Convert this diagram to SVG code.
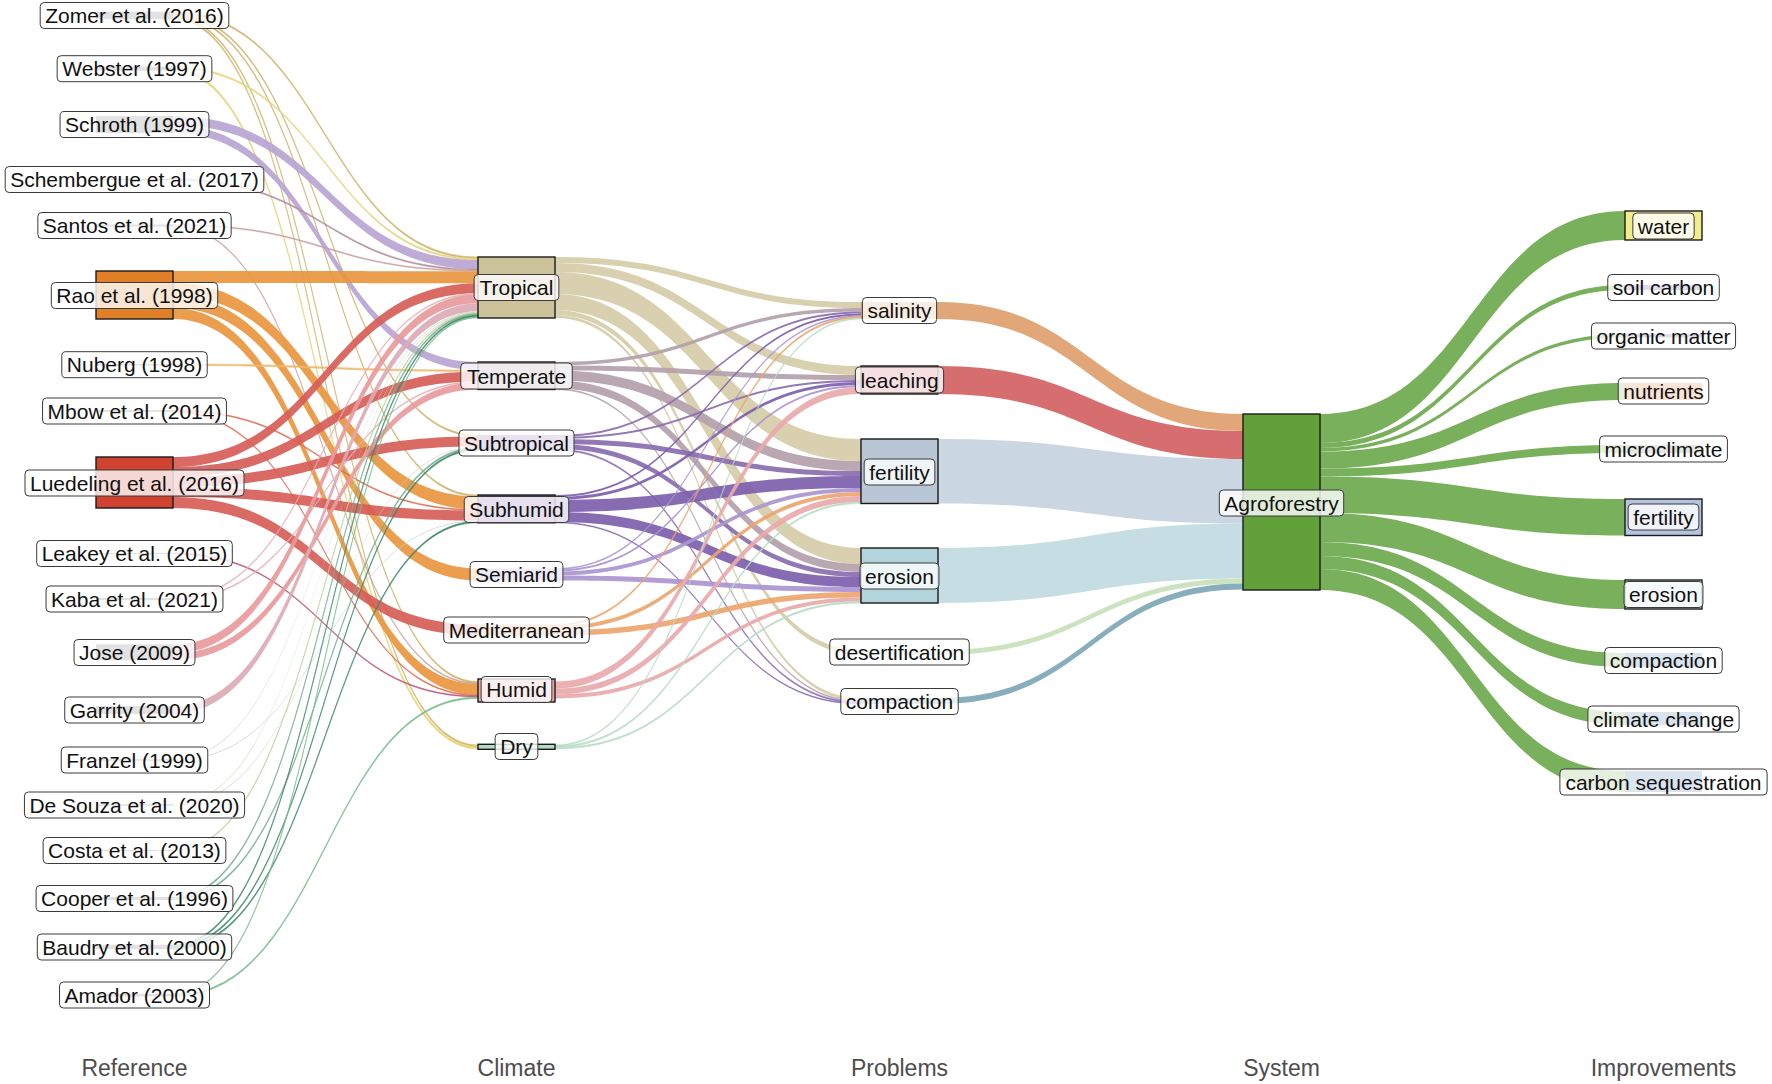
<svg xmlns="http://www.w3.org/2000/svg" width="1772" height="1084" viewBox="0 0 1772 1084">
<style>
.fl{fill-opacity:.92;stroke-width:0;stroke-opacity:.85}
.th{stroke-width:.6}
.st{stroke:#1a1a1a;stroke-width:1.4}
.lb{fill:#fff;fill-opacity:.8;stroke:#3a3a3a;stroke-width:1}
.t{font-family:"Liberation Sans",Arial,sans-serif;font-size:21px;fill:#111;text-anchor:middle}
.ax{font-family:"Liberation Sans",Arial,sans-serif;font-size:23px;fill:#4d4d4d;text-anchor:middle}
.sm{fill:#6e6e6e}
.cZo{fill:#cfb36b;stroke:#cfb36b}.cWe{fill:#e6d67e;stroke:#e6d67e}.cSc{fill:#b9a4d2;stroke:#b9a4d2}
.cSe{fill:#b28c9c;stroke:#b28c9c}.cSa{fill:#caa0a0;stroke:#caa0a0}.cRa{fill:#e8963f;stroke:#e8963f}
.cNu{fill:#efb76a;stroke:#efb76a}.cMb{fill:#dd6b55;stroke:#dd6b55}.cLu{fill:#d65d57;stroke:#d65d57}
.cLe{fill:#b8577a;stroke:#b8577a}.cKa{fill:#e6adb3;stroke:#e6adb3}.cJo{fill:#e89a9c;stroke:#e89a9c}
.cGa{fill:#dcaab4;stroke:#dcaab4}.cFr{fill:#cfcfcf;stroke:#cfcfcf}.cDe{fill:#cbd6bb;stroke:#cbd6bb}
.cCo{fill:#b5d198;stroke:#b5d198}.cCp{fill:#74ae92;stroke:#74ae92}.cBa{fill:#3e8867;stroke:#3e8867}
.cAm{fill:#78bb8b;stroke:#78bb8b}
.kTr{fill:#d6cca8;stroke:#d6cca8}.kTe{fill:#b3a1aa;stroke:#b3a1aa}.kSt{fill:#8a6cb0;stroke:#8a6cb0}
.kSh{fill:#7d5fac;stroke:#7d5fac}.kSe{fill:#aa95cf;stroke:#aa95cf}.kMe{fill:#eca56c;stroke:#eca56c}
.kHu{fill:#e9a9aa;stroke:#e9a9aa}.kDr{fill:#b6dbc6;stroke:#b6dbc6}
.pSa{fill:#e0a06c}.pLe{fill:#d26163}.pFe{fill:#c5d3e0}.pEr{fill:#c1dae1}.pDe{fill:#c7e1b9}.pCo{fill:#7ea7b9}
.gA{fill:#79b05b;fill-opacity:1}
</style>
<rect x="0" y="0" width="1772" height="1084" fill="#fff"/>
<g id="connectors">
<path class="fl th cZo" d="M173,11.75C325.5,11.75 325.5,257 478,257L478,258.5C325.5,258.5 325.5,13.25 173,13.25Z"/>
<path class="fl th cZo" d="M173,13.25C325.5,13.25 325.5,435 478,435L478,436.5C325.5,436.5 325.5,14.75 173,14.75Z"/>
<path class="fl th cZo" d="M173,14.75C325.5,14.75 325.5,495 478,495L478,496.5C325.5,496.5 325.5,16.25 173,16.25Z"/>
<path class="fl th cZo" d="M173,16.25C325.5,16.25 325.5,681.5 478,681.5L478,683C325.5,683 325.5,17.75 173,17.75Z"/>
<path class="fl th cZo" d="M173,17.75C325.5,17.75 325.5,745 478,745L478,746.5C325.5,746.5 325.5,19.25 173,19.25Z"/>
<path class="fl th cWe" d="M173,66.7C325.5,66.7 325.5,258.5 478,258.5L478,260C325.5,260 325.5,68.2 173,68.2Z"/>
<path class="fl th cWe" d="M173,68.2C325.5,68.2 325.5,746.5 478,746.5L478,749C325.5,749 325.5,70.7 173,70.7Z"/>
<path class="fl cSc" d="M173,116C325.5,116 325.5,260 478,260L478,269C325.5,269 325.5,125 173,125Z"/>
<path class="fl cSc" d="M173,125C325.5,125 325.5,362 478,362L478,370C325.5,370 325.5,133 173,133Z"/>
<path class="fl th cSe" d="M173,178.9C325.5,178.9 325.5,269 478,269L478,270.2C325.5,270.2 325.5,180.1 173,180.1Z"/>
<path class="fl th cSa" d="M173,224.5C325.5,224.5 325.5,270.2 478,270.2L478,271.2C325.5,271.2 325.5,225.5 173,225.5Z"/>
<path class="fl th cSa" d="M173,225.5C325.5,225.5 325.5,683 478,683L478,684C325.5,684 325.5,226.5 173,226.5Z"/>
<path class="fl cRa" d="M173,271C325.5,271 325.5,271.2 478,271.2L478,283.2C325.5,283.2 325.5,283 173,283Z"/>
<path class="fl cRa" d="M173,283C325.5,283 325.5,496.5 478,496.5L478,509.5C325.5,509.5 325.5,296 173,296Z"/>
<path class="fl cRa" d="M173,296C325.5,296 325.5,568.5 478,568.5L478,580.5C325.5,580.5 325.5,308 173,308Z"/>
<path class="fl cRa" d="M173,308C325.5,308 325.5,684 478,684L478,695C325.5,695 325.5,319 173,319Z"/>
<path class="fl th cNu" d="M173,364C325.5,364 325.5,370 478,370L478,371.5C325.5,371.5 325.5,365.5 173,365.5Z"/>
<path class="fl th cMb" d="M173,410C325.5,410 325.5,509.5 478,509.5L478,510.5C325.5,510.5 325.5,411 173,411Z"/>
<path class="fl th cMb" d="M173,411C325.5,411 325.5,695 478,695L478,696C325.5,696 325.5,412 173,412Z"/>
<path class="fl cLu" d="M173,457C325.5,457 325.5,283.2 478,283.2L478,293.2C325.5,293.2 325.5,467 173,467Z"/>
<path class="fl cLu" d="M173,467C325.5,467 325.5,371.5 478,371.5L478,381.5C325.5,381.5 325.5,477 173,477Z"/>
<path class="fl cLu" d="M173,477C325.5,477 325.5,436.5 478,436.5L478,446.5C325.5,446.5 325.5,487 173,487Z"/>
<path class="fl cLu" d="M173,487C325.5,487 325.5,510.5 478,510.5L478,520.5C325.5,520.5 325.5,497 173,497Z"/>
<path class="fl cLu" d="M173,497C325.5,497 325.5,624.5 478,624.5L478,635.5C325.5,635.5 325.5,508 173,508Z"/>
<path class="fl th cLe" d="M173,553C325.5,553 325.5,696 478,696L478,697C325.5,697 325.5,554 173,554Z"/>
<path class="fl th cKa" d="M173,598C325.5,598 325.5,293.2 478,293.2L478,294.2C325.5,294.2 325.5,599 173,599Z"/>
<path class="fl th cKa" d="M173,599C325.5,599 325.5,381.5 478,381.5L478,382.5C325.5,382.5 325.5,600 173,600Z"/>
<path class="fl cJo" d="M173,644.3C325.5,644.3 325.5,294.2 478,294.2L478,303.2C325.5,303.2 325.5,653.3 173,653.3Z"/>
<path class="fl cJo" d="M173,653.3C325.5,653.3 325.5,382.5 478,382.5L478,389.5C325.5,389.5 325.5,660.3 173,660.3Z"/>
<path class="fl cGa" d="M173,706C325.5,706 325.5,303.2 478,303.2L478,311.2C325.5,311.2 325.5,714 173,714Z"/>
<path class="fl cFr" d="M173,759.2C325.5,759.2 325.5,311.2 478,311.2L478,312C325.5,312 325.5,760 173,760Z"/>
<path class="fl cFr" d="M173,760C325.5,760 325.5,520.5 478,520.5L478,521.3C325.5,521.3 325.5,760.8 173,760.8Z"/>
<path class="fl cDe" d="M173,804.2C325.5,804.2 325.5,312 478,312L478,312.8C325.5,312.8 325.5,805 173,805Z"/>
<path class="fl cDe" d="M173,805C325.5,805 325.5,446.5 478,446.5L478,447.3C325.5,447.3 325.5,805.8 173,805.8Z"/>
<path class="fl th cCo" d="M173,850C325.5,850 325.5,312.8 478,312.8L478,313.8C325.5,313.8 325.5,851 173,851Z"/>
<path class="fl th cCp" d="M173,897C325.5,897 325.5,313.8 478,313.8L478,315.3C325.5,315.3 325.5,898.5 173,898.5Z"/>
<path class="fl th cCp" d="M173,898.5C325.5,898.5 325.5,447.3 478,447.3L478,448.8C325.5,448.8 325.5,900 173,900Z"/>
<path class="fl th cBa" d="M173,944.75C325.5,944.75 325.5,315.3 478,315.3L478,316.8C325.5,316.8 325.5,946.25 173,946.25Z"/>
<path class="fl th cBa" d="M173,946.25C325.5,946.25 325.5,448.8 478,448.8L478,450.3C325.5,450.3 325.5,947.75 173,947.75Z"/>
<path class="fl th cBa" d="M173,947.75C325.5,947.75 325.5,521.3 478,521.3L478,522.8C325.5,522.8 325.5,949.25 173,949.25Z"/>
<path class="fl th cAm" d="M173,994C325.5,994 325.5,316.8 478,316.8L478,317.8C325.5,317.8 325.5,995 173,995Z"/>
<path class="fl th cAm" d="M173,995C325.5,995 325.5,697 478,697L478,698.5C325.5,698.5 325.5,996.5 173,996.5Z"/>

<path class="fl kTr" d="M555,257C708,257 708,302 861,302L861,308C708,308 708,263 555,263Z"/>
<path class="fl kTr" d="M555,263C708,263 708,366 861,366L861,375C708,375 708,272 555,272Z"/>
<path class="fl kTr" d="M555,272C708,272 708,439 861,439L861,461C708,461 708,294 555,294Z"/>
<path class="fl kTr" d="M555,294C708,294 708,548 861,548L861,564C708,564 708,310 555,310Z"/>
<path class="fl kTr" d="M555,310C708,310 708,650 861,650L861,655C708,655 708,315 555,315Z"/>
<path class="fl kTr" d="M555,315C708,315 708,698 861,698L861,701C708,701 708,318 555,318Z"/>
<path class="fl kTe" d="M555,362C708,362 708,308 861,308L861,311.5C708,311.5 708,365.5 555,365.5Z"/>
<path class="fl kTe" d="M555,365.5C708,365.5 708,375 861,375L861,380C708,380 708,370.5 555,370.5Z"/>
<path class="fl kTe" d="M555,370.5C708,370.5 708,461 861,461L861,471C708,471 708,380.5 555,380.5Z"/>
<path class="fl kTe" d="M555,380.5C708,380.5 708,564 861,564L861,572C708,572 708,388.5 555,388.5Z"/>
<path class="fl th kTe" d="M555,388.5C708,388.5 708,701 861,701L861,702C708,702 708,389.5 555,389.5Z"/>
<path class="fl kSt" d="M555,435C708,435 708,311.5 861,311.5L861,313.5C708,313.5 708,437 555,437Z"/>
<path class="fl kSt" d="M555,437C708,437 708,380 861,380L861,382C708,382 708,439 555,439Z"/>
<path class="fl kSt" d="M555,439C708,439 708,471 861,471L861,476C708,476 708,444 555,444Z"/>
<path class="fl kSt" d="M555,444C708,444 708,572 861,572L861,577C708,577 708,449 555,449Z"/>
<path class="fl th kSt" d="M555,449C708,449 708,702 861,702L861,703.3C708,703.3 708,450.3 555,450.3Z"/>
<path class="fl kSh" d="M555,495C708,495 708,313.5 861,313.5L861,315.5C708,315.5 708,497 555,497Z"/>
<path class="fl kSh" d="M555,497C708,497 708,382 861,382L861,385C708,385 708,500 555,500Z"/>
<path class="fl kSh" d="M555,500C708,500 708,476 861,476L861,488C708,488 708,512 555,512Z"/>
<path class="fl kSh" d="M555,512C708,512 708,577 861,577L861,587C708,587 708,522 555,522Z"/>
<path class="fl th kSh" d="M555,522C708,522 708,703.3 861,703.3L861,704.1C708,704.1 708,522.8 555,522.8Z"/>
<path class="fl th kSe" d="M555,568.5C708,568.5 708,315.5 861,315.5L861,316.5C708,316.5 708,569.5 555,569.5Z"/>
<path class="fl kSe" d="M555,569.5C708,569.5 708,385 861,385L861,387C708,387 708,571.5 555,571.5Z"/>
<path class="fl kSe" d="M555,571.5C708,571.5 708,488 861,488L861,492C708,492 708,575.5 555,575.5Z"/>
<path class="fl kSe" d="M555,575.5C708,575.5 708,587 861,587L861,592C708,592 708,580.5 555,580.5Z"/>
<path class="fl th kMe" d="M555,624.5C708,624.5 708,316.5 861,316.5L861,318C708,318 708,626 555,626Z"/>
<path class="fl kMe" d="M555,626C708,626 708,492 861,492L861,496C708,496 708,630 555,630Z"/>
<path class="fl kMe" d="M555,630C708,630 708,592 861,592L861,597.5C708,597.5 708,635.5 555,635.5Z"/>
<path class="fl kHu" d="M555,681.5C708,681.5 708,387 861,387L861,394C708,394 708,688.5 555,688.5Z"/>
<path class="fl kHu" d="M555,688.5C708,688.5 708,496 861,496L861,502C708,502 708,694.5 555,694.5Z"/>
<path class="fl kHu" d="M555,694.5C708,694.5 708,597.5 861,597.5L861,601.5C708,601.5 708,698.5 555,698.5Z"/>
<path class="fl th kDr" d="M555,745C708,745 708,318 861,318L861,319C708,319 708,746 555,746Z"/>
<path class="fl th kDr" d="M555,746C708,746 708,502 861,502L861,503.5C708,503.5 708,747.5 555,747.5Z"/>
<path class="fl th kDr" d="M555,747.5C708,747.5 708,601.5 861,601.5L861,603C708,603 708,749 555,749Z"/>

<path class="fl pSa" d="M938,302C1090.5,302 1090.5,414 1243,414L1243,431C1090.5,431 1090.5,319 938,319Z"/>
<path class="fl pLe" d="M938,366C1090.5,366 1090.5,431 1243,431L1243,459C1090.5,459 1090.5,394 938,394Z"/>
<path class="fl pFe" d="M938,439C1090.5,439 1090.5,459 1243,459L1243,523.5C1090.5,523.5 1090.5,503.5 938,503.5Z"/>
<path class="fl pEr" d="M938,548C1090.5,548 1090.5,523.5 1243,523.5L1243,578.5C1090.5,578.5 1090.5,603 938,603Z"/>
<path class="fl pDe" d="M938,650C1090.5,650 1090.5,578.5 1243,578.5L1243,583.5C1090.5,583.5 1090.5,655 938,655Z"/>
<path class="fl pCo" d="M938,698C1090.5,698 1090.5,583.5 1243,583.5L1243,589.6C1090.5,589.6 1090.5,704.1 938,704.1Z"/>

<path class="fl gA" d="M1320,414C1472.5,414 1472.5,211 1625,211L1625,240C1472.5,240 1472.5,443 1320,443Z"/>
<path class="fl gA" d="M1320,443C1472.5,443 1472.5,285 1625,285L1625,290C1472.5,290 1472.5,448 1320,448Z"/>
<path class="fl gA" d="M1320,448C1472.5,448 1472.5,334 1625,334L1625,337.5C1472.5,337.5 1472.5,451.5 1320,451.5Z"/>
<path class="fl gA" d="M1320,451.5C1472.5,451.5 1472.5,383 1625,383L1625,400C1472.5,400 1472.5,468.5 1320,468.5Z"/>
<path class="fl gA" d="M1320,468.5C1472.5,468.5 1472.5,445 1625,445L1625,453C1472.5,453 1472.5,476.5 1320,476.5Z"/>
<path class="fl gA" d="M1320,476.5C1472.5,476.5 1472.5,499 1625,499L1625,535.5C1472.5,535.5 1472.5,513 1320,513Z"/>
<path class="fl gA" d="M1320,513C1472.5,513 1472.5,580 1625,580L1625,609C1472.5,609 1472.5,542 1320,542Z"/>
<path class="fl gA" d="M1320,542C1472.5,542 1472.5,653 1625,653L1625,667C1472.5,667 1472.5,556 1320,556Z"/>
<path class="fl gA" d="M1320,556C1472.5,556 1472.5,712 1625,712L1625,725C1472.5,725 1472.5,569 1320,569Z"/>
<path class="fl gA" d="M1320,569C1472.5,569 1472.5,771 1625,771L1625,792C1472.5,792 1472.5,590 1320,590Z"/>
</g>

<g id="ref-zomer"><rect class="sm" x="96" y="11.75" width="77" height="7.5"/><rect class="lb" x="40.2" y="2.5" width="188.6" height="26" rx="4"/><text class="t" x="134.5" y="23">Zomer et al. (2016)</text></g>
<g id="ref-webster"><rect class="sm" x="96" y="66.7" width="77" height="4"/><rect class="lb" x="57.15" y="55.7" width="154.7" height="26" rx="4"/><text class="t" x="134.5" y="76.2">Webster (1997)</text></g>
<g id="ref-schroth"><rect class="sm" x="96" y="116" width="77" height="17"/><rect class="lb" x="60.05" y="111.5" width="148.9" height="26" rx="4"/><text class="t" x="134.5" y="132">Schroth (1999)</text></g>
<g id="ref-schembergue"><rect class="sm" x="96" y="178.9" width="77" height="1.2"/><rect class="lb" x="5.2" y="166.5" width="258.6" height="26" rx="4"/><text class="t" x="134.5" y="187">Schembergue et al. (2017)</text></g>
<g id="ref-santos"><rect class="sm" x="96" y="224.5" width="77" height="2"/><rect class="lb" x="37.85" y="212.5" width="193.3" height="26" rx="4"/><text class="t" x="134.5" y="233">Santos et al. (2021)</text></g>
<g id="ref-rao"><rect class="st" x="96" y="271" width="77" height="48" fill="#e07f26"/><rect class="lb" x="51.3" y="282.5" width="166.4" height="26" rx="4"/><text class="t" x="134.5" y="303">Rao et al. (1998)</text></g>
<g id="ref-nuberg"><rect class="sm" x="96" y="364" width="77" height="1.5"/><rect class="lb" x="61.8" y="351.7" width="145.4" height="26" rx="4"/><text class="t" x="134.5" y="372.2">Nuberg (1998)</text></g>
<g id="ref-mbow"><rect class="sm" x="96" y="410" width="77" height="2"/><rect class="lb" x="42.55" y="398" width="183.9" height="26" rx="4"/><text class="t" x="134.5" y="418.5">Mbow et al. (2014)</text></g>
<g id="ref-luedeling"><rect class="st" x="96" y="457" width="77" height="51" fill="#cf4330"/><rect class="lb" x="25" y="470" width="219" height="26" rx="4"/><text class="t" x="134.5" y="490.5">Luedeling et al. (2016)</text></g>
<g id="ref-leakey"><rect class="sm" x="96" y="553" width="77" height="1"/><rect class="lb" x="36.7" y="540.5" width="195.6" height="26" rx="4"/><text class="t" x="134.5" y="561">Leakey et al. (2015)</text></g>
<g id="ref-kaba"><rect class="sm" x="96" y="598" width="77" height="2"/><rect class="lb" x="46.05" y="586" width="176.9" height="26" rx="4"/><text class="t" x="134.5" y="606.5">Kaba et al. (2021)</text></g>
<g id="ref-jose"><rect class="sm" x="96" y="644.3" width="77" height="16"/><rect class="lb" x="74.05" y="639.5" width="120.9" height="26" rx="4"/><text class="t" x="134.5" y="660">Jose (2009)</text></g>
<g id="ref-garrity"><rect class="sm" x="96" y="706" width="77" height="8"/><rect class="lb" x="64.75" y="697" width="139.5" height="26" rx="4"/><text class="t" x="134.5" y="717.5">Garrity (2004)</text></g>
<g id="ref-franzel"><rect class="sm" x="96" y="759.2" width="77" height="1.6"/><rect class="lb" x="61.25" y="747" width="146.5" height="26" rx="4"/><text class="t" x="134.5" y="767.5">Franzel (1999)</text></g>
<g id="ref-desouza"><rect class="sm" x="96" y="804.2" width="77" height="1.6"/><rect class="lb" x="24.45" y="792" width="220.1" height="26" rx="4"/><text class="t" x="134.5" y="812.5">De Souza et al. (2020)</text></g>
<g id="ref-costa"><rect class="sm" x="96" y="850" width="77" height="1"/><rect class="lb" x="43.15" y="837.5" width="182.7" height="26" rx="4"/><text class="t" x="134.5" y="858">Costa et al. (2013)</text></g>
<g id="ref-cooper"><rect class="sm" x="96" y="897" width="77" height="3"/><rect class="lb" x="36.1" y="885.5" width="196.8" height="26" rx="4"/><text class="t" x="134.5" y="906">Cooper et al. (1996)</text></g>
<g id="ref-baudry"><rect class="sm" x="96" y="944.75" width="77" height="4.5"/><rect class="lb" x="37.3" y="934" width="194.4" height="26" rx="4"/><text class="t" x="134.5" y="954.5">Baudry et al. (2000)</text></g>
<g id="ref-amador"><rect class="sm" x="96" y="994" width="77" height="2.5"/><rect class="lb" x="59.5" y="982" width="150" height="26" rx="4"/><text class="t" x="134.5" y="1002.5">Amador (2003)</text></g>

<g id="cl-tropical"><rect class="st" x="478" y="257" width="77" height="61" fill="#cdc39b"/><rect class="lb" x="474.15" y="274.5" width="84.7" height="26" rx="4"/><text class="t" x="516.5" y="295">Tropical</text></g>
<g id="cl-temperate"><rect class="st" x="478" y="362" width="77" height="27.5" fill="#b3a1aa"/><rect class="lb" x="460.75" y="363" width="111.5" height="26" rx="4"/><text class="t" x="516.5" y="383.5">Temperate</text></g>
<g id="cl-subtropical"><rect x="478" y="435" width="77" height="15.3" fill="#8a6cb0"/><rect class="lb" x="459" y="430" width="115" height="26" rx="4"/><text class="t" x="516.5" y="450.5">Subtropical</text></g>
<g id="cl-subhumid"><rect class="st" x="478" y="495" width="77" height="27.8" fill="#7d5fac"/><rect class="lb" x="464.25" y="496.5" width="104.5" height="26" rx="4"/><text class="t" x="516.5" y="517">Subhumid</text></g>
<g id="cl-semiarid"><rect x="478" y="568.5" width="77" height="12" fill="#aa95cf"/><rect class="lb" x="470.1" y="561.5" width="92.8" height="26" rx="4"/><text class="t" x="516.5" y="582">Semiarid</text></g>
<g id="cl-mediterranean"><rect x="478" y="624.5" width="77" height="11" fill="#eca56c"/><rect class="lb" x="443.75" y="617" width="145.5" height="26" rx="4"/><text class="t" x="516.5" y="637.5">Mediterranean</text></g>
<g id="cl-humid"><rect class="st" x="478" y="679" width="77" height="23" fill="#e9a9aa"/><rect class="lb" x="481.15" y="676.5" width="70.7" height="26" rx="4"/><text class="t" x="516.5" y="697">Humid</text></g>
<g id="cl-dry"><rect class="st" x="478" y="744.3" width="77" height="5" fill="#b6dbc6"/><rect class="lb" x="495.15" y="733.5" width="42.7" height="26" rx="4"/><text class="t" x="516.5" y="754">Dry</text></g>

<g id="pr-salinity"><rect x="861" y="302" width="77" height="17" fill="#e0a06c"/><rect class="lb" x="862.4" y="297.5" width="74.2" height="26" rx="4"/><text class="t" x="899.5" y="318">salinity</text></g>
<g id="pr-leaching"><rect class="st" x="861" y="366" width="77" height="28" fill="#d26163"/><rect class="lb" x="855.4" y="367" width="88.2" height="26" rx="4"/><text class="t" x="899.5" y="387.5">leaching</text></g>
<g id="pr-fertility"><rect class="st" x="861" y="439" width="77" height="64.5" fill="#b8c6d6"/><rect class="lb" x="864.15" y="459" width="70.7" height="26" rx="4"/><text class="t" x="899.5" y="479.5">fertility</text></g>
<g id="pr-erosion"><rect class="st" x="861" y="548" width="77" height="55" fill="#b3d4dc"/><rect class="lb" x="860.05" y="563" width="78.9" height="26" rx="4"/><text class="t" x="899.5" y="583.5">erosion</text></g>
<g id="pr-desertification"><rect x="861" y="650" width="77" height="5" fill="#c7e1b9"/><rect class="lb" x="829.75" y="639" width="139.5" height="26" rx="4"/><text class="t" x="899.5" y="659.5">desertification</text></g>
<g id="pr-compaction"><rect x="861" y="698" width="77" height="6" fill="#7ea7b9"/><rect class="lb" x="840.8" y="688.5" width="117.4" height="26" rx="4"/><text class="t" x="899.5" y="709">compaction</text></g>

<g id="sys-agroforestry"><rect class="st" x="1243" y="414" width="77" height="176" fill="#62a03a"/><rect class="lb" x="1219.3" y="490" width="124.4" height="26" rx="4"/><text class="t" x="1281.5" y="510.5">Agroforestry</text></g>

<g id="im-water"><rect class="st" x="1625" y="211" width="77" height="29" fill="#f3ec8c"/><rect class="lb" x="1632.85" y="213" width="61.3" height="26" rx="4"/><text class="t" x="1663.5" y="233.5">water</text></g>
<g id="im-soilcarbon"><rect x="1625" y="285" width="77" height="5" fill="#6a4ea0"/><rect class="lb" x="1607.75" y="274.5" width="111.5" height="26" rx="4"/><text class="t" x="1663.5" y="295">soil carbon</text></g>
<g id="im-organicmatter"><rect x="1625" y="334" width="77" height="3.5" fill="#6a4ea0"/><rect class="lb" x="1591.45" y="323" width="144.1" height="26" rx="4"/><text class="t" x="1663.5" y="343.5">organic matter</text></g>
<g id="im-nutrients"><rect x="1625" y="383" width="77" height="17" fill="#e07830"/><rect class="lb" x="1618.25" y="378" width="90.5" height="26" rx="4"/><text class="t" x="1663.5" y="398.5">nutrients</text></g>
<g id="im-microclimate"><rect x="1625" y="445" width="77" height="8" fill="#808a70"/><rect class="lb" x="1599.6" y="436" width="127.8" height="26" rx="4"/><text class="t" x="1663.5" y="456.5">microclimate</text></g>
<g id="im-fertility"><rect class="st" x="1625" y="499" width="77" height="36.5" fill="#b4c4e0"/><rect class="lb" x="1628.15" y="504" width="70.7" height="26" rx="4"/><text class="t" x="1663.5" y="524.5">fertility</text></g>
<g id="im-erosion"><rect class="st" x="1625" y="580" width="77" height="29" fill="#cfe6ec"/><rect class="lb" x="1624.05" y="581.5" width="78.9" height="26" rx="4"/><text class="t" x="1663.5" y="602">erosion</text></g>
<g id="im-compaction"><rect x="1625" y="653" width="77" height="14" fill="#4178aa"/><rect class="lb" x="1604.8" y="647.5" width="117.4" height="26" rx="4"/><text class="t" x="1663.5" y="668">compaction</text></g>
<g id="im-climatechange"><rect x="1625" y="712" width="77" height="13" fill="#4178aa"/><rect class="lb" x="1587.9" y="706" width="151.2" height="26" rx="4"/><text class="t" x="1663.5" y="726.5">climate change</text></g>
<g id="im-carbonseq"><rect x="1625" y="771" width="77" height="21" fill="#4178aa"/><rect class="lb" x="1559.9" y="769" width="207.2" height="26" rx="4"/><text class="t" x="1663.5" y="789.5">carbon sequestration</text></g>

<g id="axis">
<text class="ax" x="134.5" y="1076">Reference</text>
<text class="ax" x="516.5" y="1076">Climate</text>
<text class="ax" x="899.5" y="1076">Problems</text>
<text class="ax" x="1281.5" y="1076">System</text>
<text class="ax" x="1663.5" y="1076">Improvements</text>
</g>
</svg>
